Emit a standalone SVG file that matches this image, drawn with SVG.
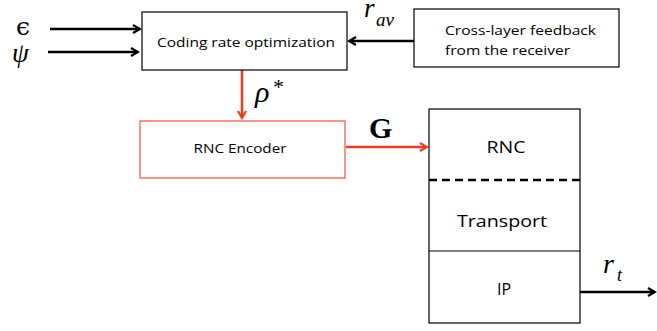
<svg xmlns="http://www.w3.org/2000/svg" width="657" height="331" viewBox="0 0 657 331">
<style>
.box{fill:#fff;stroke:#000;stroke-width:1.2}
.lbl{font-family:"Open Sans","Liberation Sans",sans-serif;fill:#000;text-anchor:middle}
.math{font-family:"Liberation Serif","DejaVu Serif",serif;font-style:italic;fill:#000}
.blk{stroke:#000;stroke-width:2.5;fill:none}
.red{stroke:#f53a1e;stroke-width:2.5;fill:none}
</style>
<defs>
<marker id="ab" markerWidth="10" markerHeight="10" refX="8" refY="5" orient="auto" markerUnits="userSpaceOnUse">
<polyline points="1,1 8,5 1,9" fill="none" stroke="#000" stroke-width="2.2"/>
</marker>
<marker id="ar" markerWidth="10" markerHeight="10" refX="8" refY="5" orient="auto" markerUnits="userSpaceOnUse">
<polyline points="1,1 8,5 1,9" fill="none" stroke="#f53a1e" stroke-width="2.2"/>
</marker>
</defs>
<rect width="657" height="331" fill="#fff"/>
<g id="connectors">
<line class="blk" x1="50" y1="29" x2="140" y2="29" marker-end="url(#ab)"/>
<line class="blk" x1="48" y1="52" x2="138" y2="52" marker-end="url(#ab)"/>
<line class="blk" x1="414" y1="41" x2="349" y2="41" marker-end="url(#ab)"/>
<line class="red" x1="242" y1="70" x2="242" y2="118" marker-end="url(#ar)"/>
<line class="red" x1="346" y1="147" x2="427" y2="147" marker-end="url(#ar)"/>
<line class="blk" x1="580" y1="292" x2="655" y2="292" marker-end="url(#ab)"/>
<text x="16" y="35" font-size="25" font-family="DejaVu Serif,serif" fill="#000">ϵ</text>
<text class="math" x="12" y="62" font-size="27">ψ</text>
<text class="math" x="364" y="17" font-size="27">r</text>
<text class="math" x="376" y="26" font-size="19">av</text>
<text class="math" x="255" y="102" font-size="30">ρ</text>
<text class="math" x="272" y="94" font-size="22" font-style="normal">*</text>
<text x="369" y="138" font-size="30" font-weight="bold" font-family="Liberation Serif,serif">G</text>
<text class="math" x="603" y="273" font-size="28">r</text>
<text class="math" x="617" y="281" font-size="18">t</text>
</g>
<g id="coding">
<rect class="box" x="142" y="12" width="205" height="58"/>
<text class="lbl" x="246" y="47" font-size="13.5" textLength="178" lengthAdjust="spacingAndGlyphs">Coding rate optimization</text>
</g>
<g id="feedback">
<rect class="box" x="414" y="9" width="205" height="58"/>
<text x="445" y="35" font-size="13.5" font-family="Open Sans,Liberation Sans,sans-serif" textLength="151" lengthAdjust="spacingAndGlyphs">Cross-layer feedback</text>
<text x="445" y="55" font-size="13.5" font-family="Open Sans,Liberation Sans,sans-serif" textLength="125" lengthAdjust="spacingAndGlyphs">from the receiver</text>
</g>
<g id="encoder">
<rect x="140" y="121" width="205" height="57" fill="#fff" stroke="#f5503a" stroke-width="1.2"/>
<text class="lbl" x="240" y="153" font-size="13.5" textLength="93" lengthAdjust="spacingAndGlyphs">RNC Encoder</text>
</g>
<g id="stack">
<rect class="box" x="429" y="109" width="151" height="214"/>
<line x1="429" y1="180" x2="580" y2="180" stroke="#000" stroke-width="2.5" stroke-dasharray="8,5"/>
<line x1="429" y1="251" x2="580" y2="251" stroke="#000" stroke-width="1.2"/>
<text class="lbl" x="506" y="153" font-size="16" textLength="39" lengthAdjust="spacingAndGlyphs">RNC</text>
<text class="lbl" x="502" y="227" font-size="16" textLength="90" lengthAdjust="spacingAndGlyphs">Transport</text>
<text class="lbl" x="504" y="295" font-size="16">IP</text>
</g>
</svg>
